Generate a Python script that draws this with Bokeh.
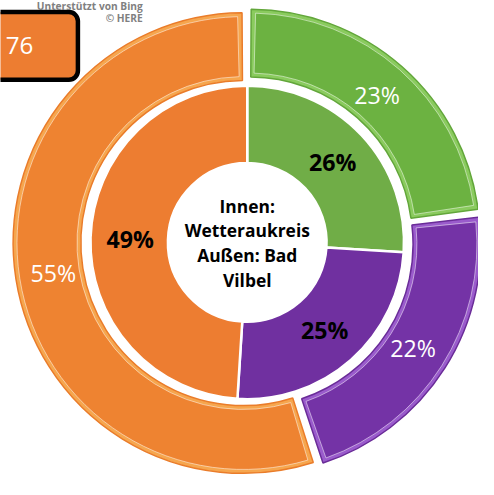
import math
from bokeh.plotting import figure
from bokeh.models import Range1d, BoxAnnotation
from bokeh.core.properties import value
from bokeh.embed import file_html
from bokeh.resources import INLINE

# ---- data ----
categories = ["Grün", "Lila", "Orange"]
inner_values = [26, 25, 49]      # Innen: Wetteraukreis
outer_values = [23, 22, 55]      # Außen: Bad Vilbel
inner_labels = ["26%", "25%", "49%"]
outer_labels = ["23%", "22%", "55%"]
center_lines = ["Innen:", "Wetteraukreis", "Außen: Bad", "Vilbel"]
badge_text = "76"
credit_lines = ["Unterstützt von Bing", "© HERE"]

inner_colors = ["#70AD47", "#7030A0", "#ED7D31"]
outer_main = ["#6CB241", "#7433A6", "#EE8331"]
outer_edge = ["#8ACB5E", "#9A5BCC", "#F6A64E"]
outer_rim = ["#62A63A", "#6A2C98", "#EA7C2A"]

W, H = 478, 479
FONT = value("Open Sans")
S = W / 494.0   # screen px per reference px

p = figure(width=W, height=H, output_backend="svg", toolbar_location=None,
           x_range=Range1d(0, 494), y_range=Range1d(0, 495),
           min_border=0, background_fill_color="white",
           border_fill_color="white")
p.axis.visible = False
p.grid.visible = False
p.outline_line_color = None


def fs(px):
    return "%.1fpx" % (px * S)


def Y(py):          # reference pixel row -> data y
    return 495 - py


cx, cy = 255, Y(250)
R_HOLE, R_IN = 82, 162
R_OUT0, R_OUT1 = 168, 238
EXPLODE = 4


def spans(vals):
    tot = float(sum(vals))
    res, c = [], 0.0
    for v in vals:
        a0 = math.pi / 2 - 2 * math.pi * c / tot
        c += v
        a1 = math.pi / 2 - 2 * math.pi * c / tot
        res.append((a1, a0))
    return res


# inner ring
for (a1, a0), col, lab in zip(spans(inner_values), inner_colors, inner_labels):
    p.annular_wedge(x=cx, y=cy, inner_radius=R_HOLE, outer_radius=R_IN,
                    start_angle=a1, end_angle=a0, fill_color=col,
                    line_color="white", line_width=2.5)
    m = (a1 + a0) / 2
    p.text(x=[cx + 121 * math.cos(m)], y=[cy + 121 * math.sin(m)], text=[lab],
           text_font=FONT, text_font_size=fs(24), text_font_style="bold",
           text_color="black", text_align="center", text_baseline="middle")

# outer ring (exploded, bevelled)
for (a1, a0), main, edge, rim, lab in zip(spans(outer_values), outer_main,
                                          outer_edge, outer_rim, outer_labels):
    m = (a1 + a0) / 2
    ox, oy = cx + EXPLODE * math.cos(m), cy + EXPLODE * math.sin(m)
    p.annular_wedge(x=ox, y=oy, inner_radius=R_OUT0, outer_radius=R_OUT1,
                    start_angle=a1 + 0.006, end_angle=a0 - 0.006,
                    fill_color=edge, line_color=rim, line_width=1.5)
    d = 4.0 / 203
    p.annular_wedge(x=ox, y=oy, inner_radius=R_OUT0 + 4, outer_radius=R_OUT1 - 4,
                    start_angle=a1 + 0.006 + d, end_angle=a0 - 0.006 - d,
                    fill_color=main, line_color="white", line_alpha=0.5,
                    line_width=1)
    p.text(x=[cx + 203 * math.cos(m)], y=[cy + 203 * math.sin(m)], text=[lab],
           text_font=FONT, text_font_size=fs(24), text_color="white",
           text_align="center", text_baseline="middle")

# center text
n = len(center_lines)
for i, line in enumerate(center_lines):
    p.text(x=[cx], y=[Y(250.5 + (i - (n - 1) / 2) * 25.7)], text=[line],
           text_font=FONT, text_font_size=fs(18), text_font_style="bold",
           text_color="black", text_align="center", text_baseline="middle")

# badge top-left
p.add_layout(BoxAnnotation(left=-20, right=80, top=Y(12), bottom=Y(82),
                           fill_color="#ED7D31", fill_alpha=1.0,
                           line_color="black", line_alpha=1.0, line_width=4.5,
                           border_radius=9, level="underlay"))
p.text(x=[34], y=[Y(47)], text=[badge_text], text_font=FONT,
       text_font_size=fs(25), text_color="white", text_align="right",
       text_baseline="middle")

# map credits
p.text(x=[147, 147], y=[Y(6), Y(18)], text=credit_lines, text_font=FONT,
       text_font_size=fs(10.5), text_font_style="bold", text_color="#808080",
       text_align="right", text_baseline="middle")

open("out.html", "w").write(file_html(p, INLINE))
